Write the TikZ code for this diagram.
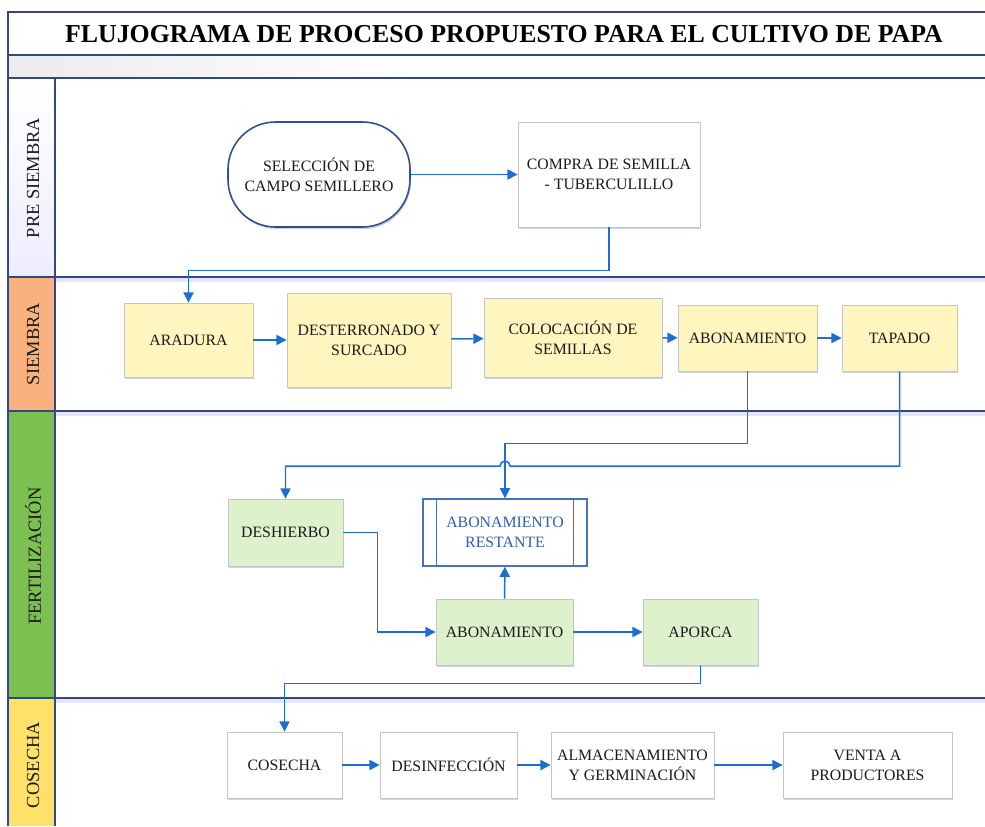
\documentclass[tikz,border=0pt]{standalone}
\usepackage{fontspec}
\setmainfont{Liberation Serif}
\usepackage{tikz}
\usetikzlibrary{arrows.meta, shadows, shapes.misc, positioning}

\definecolor{lanecol}{HTML}{34497A}
\definecolor{flowcol}{HTML}{1C6FD1}
\definecolor{boxline}{HTML}{C4C4C4}
\definecolor{boxyel}{HTML}{FFF5BE}
\definecolor{boxgrn}{HTML}{DDF1CC}
\definecolor{siemcol}{HTML}{F9B27D}
\definecolor{fertcol}{HTML}{7DC052}
\definecolor{cosecol}{HTML}{FFE069}
\definecolor{termcol}{HTML}{2F4F8F}
\definecolor{restcol}{HTML}{4472C4}
\definecolor{resttxt}{HTML}{2E5FB0}
\definecolor{txtcol}{HTML}{1A1A1A}
\definecolor{shadowcol}{HTML}{A9B8D6}

\begin{document}
\begin{tikzpicture}[
    x=0.02cm, y=-0.02cm,
    font=\fontsize{9}{11.4}\selectfont,
    sz/.style 2 args={minimum width=#1*0.02cm, minimum height=#2*0.02cm},
    sombra/.style={drop shadow={shadow xshift=0.6pt, shadow yshift=-1.2pt, fill=shadowcol, opacity=0.6}},
    proc/.style={draw=boxline, line width=0.5pt, align=center, inner sep=1pt, text=txtcol, sombra},
    amarillo/.style={proc, fill=boxyel},
    verde/.style={proc, fill=boxgrn},
    blanco/.style={proc, fill=white},
    flow/.style={draw=flowcol, line width=0.85pt, -{Triangle[length=5.8pt, width=5.8pt]}},
    lane/.style={draw=lanecol, line width=0.9pt},
    lanelbl/.style={rotate=90, text=txtcol, font=\fontsize{10.5}{12}\selectfont},
]
\useasboundingbox (0,0) rectangle (985,826);
\fill[white] (0,0) rectangle (985,826);
\shade[left color=blue!7!gray!14, right color=white] (8,55) rectangle (420,78);
\shade[top color=white, bottom color=blue!7] (8,78) rectangle (55,277);
\fill[siemcol] (8,277) rectangle (55,411);
\fill[fertcol] (8,411) rectangle (55,698);
\fill[cosecol] (8,698) rectangle (55,826);
\foreach \yy in {277, 411, 698}
    \draw[blue!10, line width=2.5pt] (55,\yy+3) -- (985,\yy+3);
\draw[lane] (985,12) -- (8,12) -- (8,826);
\foreach \yy in {55, 78, 277, 411, 698}
    \draw[lane] (8,\yy) -- (985,\yy);
\draw[lane] (55,78) -- (55,826);

\node[font=\fontsize{14.7}{16}\bfseries\selectfont] (titulo) at (504,34) {FLUJOGRAMA DE PROCESO PROPUESTO PARA EL CULTIVO DE PAPA};

\node[lanelbl] (lpre) at (33,178) {PRE SIEMBRA};
\node[lanelbl] (lsiem) at (33,344) {SIEMBRA};
\node[lanelbl] (lfert) at (33,556) {FERTILIZACIÓN};
\node[lanelbl] (lcose) at (33,765) {COSECHA};

\node[rectangle, rounded corners=0.95cm, draw=termcol, line width=0.9pt, fill=white, align=center, text=txtcol, sombra, sz={182}{105}] (sel) at (319,174.5) {SELECCIÓN DE\\CAMPO SEMILLERO};
\node[blanco, sz={182}{105}] (compra) at (609,174.5) {COMPRA DE SEMILLA\\- TUBERCULILLO};

\node[amarillo, sz={129}{74}] (arad) at (188.5,340) {ARADURA};
\node[amarillo, sz={164}{94}] (dest) at (369,340) {DESTERRONADO Y\\SURCADO};
\node[amarillo, sz={178}{79}] (colo) at (573,337.5) {COLOCACIÓN DE\\SEMILLAS};
\node[amarillo, sz={139}{66}] (abon1) at (747.5,338) {ABONAMIENTO};
\node[amarillo, sz={115}{66}] (tap) at (899.5,338) {TAPADO};

\node[verde, sz={115}{67}] (desh) at (285.5,532.5) {DESHIERBO};
\node[draw=restcol, line width=0.8pt, fill=white, align=center, inner sep=1pt, text=resttxt, sz={164}{67}] (rest) at (505,532.5) {ABONAMIENTO\\RESTANTE};
\draw[restcol, line width=0.8pt] ([xshift=0.28cm]rest.north west) -- ([xshift=0.28cm]rest.south west);
\draw[restcol, line width=0.8pt] ([xshift=-0.28cm]rest.north east) -- ([xshift=-0.28cm]rest.south east);
\node[verde, sz={137}{66}] (abon2) at (504.5,632) {ABONAMIENTO};
\node[verde, sz={115}{66}] (apor) at (700.5,632) {APORCA};

\node[blanco, sz={115}{66}] (cos) at (284.5,765) {COSECHA};
\node[blanco, sz={137}{66}] (desinf) at (448.5,765) {DESINFECCIÓN};
\node[blanco, sz={163}{66}] (alm) at (632.5,765) {ALMACENAMIENTO\\Y GERMINACIÓN};
\node[blanco, sz={169}{66}] (venta) at (867.5,765) {VENTA A\\PRODUCTORES};

\coordinate (salto) at (505,466);

\draw[flow] (sel) -- (compra);
\draw[flow] (compra.south) -- ++(0,43) -| (arad.north);
\draw[flow] (arad) -- (dest);
\draw[flow] (dest) -- (colo);
\draw[flow] (colo) -- (abon1);
\draw[flow] (abon1) -- (tap);
\draw[flow] (abon1.south) -- ++(0,72) -| (rest.north);
\draw[flow] (tap.south) |- ([xshift=0.1cm]salto) arc[start angle=0, end angle=180, radius=0.1cm] -| (desh.north);
\draw[flow] (desh.east) -- ++(34,0) |- (abon2.west);
\draw[flow] (abon2) -- (rest);
\draw[flow] (abon2) -- (apor);
\draw[flow] (apor.south) -- ++(0,18) -| (cos.north);
\draw[flow] (cos) -- (desinf);
\draw[flow] (desinf) -- (alm);
\draw[flow] (alm) -- (venta);
\end{tikzpicture}
\end{document}
